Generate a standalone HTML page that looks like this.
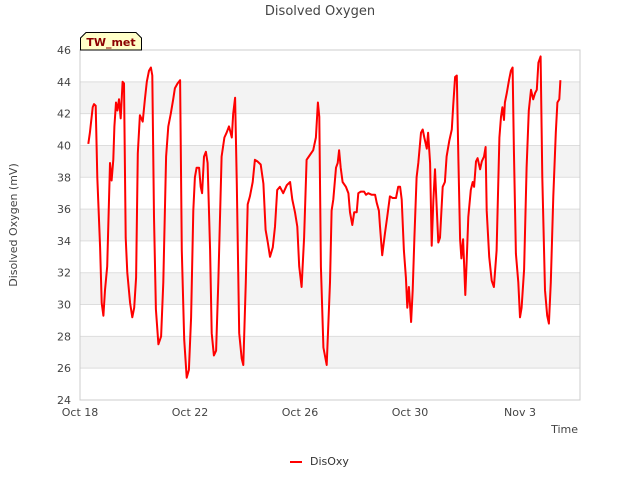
<!DOCTYPE html>
<html><head><meta charset="utf-8"><style>
body{margin:0;background:#fff;font-family:"Liberation Sans","DejaVu Sans",sans-serif;}
svg text{font-family:"DejaVu Sans","Liberation Sans",sans-serif;}
</style></head><body>
<svg id="chart" width="640" height="480" viewBox="0 0 640 480" xmlns="http://www.w3.org/2000/svg">
<rect x="0" y="0" width="640" height="480" fill="#fff"/>
<text x="320" y="15" text-anchor="middle" font-size="13" fill="#444">Disolved Oxygen</text>
<g id="bands"></g>
<g id="grid"></g>
<rect x="80" y="50" width="500" height="350" fill="none" stroke="#ccc"/>
<g id="yticks"></g>
<g id="xticks"></g>
<path id="line" fill="none" stroke="#ff0000" stroke-width="2" stroke-linejoin="round"/>
<text transform="translate(17,225) rotate(-90)" text-anchor="middle" font-size="11" fill="#444">Disolved Oxygen (mV)</text>
<text x="578" y="433" text-anchor="end" font-size="11" fill="#444">Time</text>
<g>
<path d="M80.5,50 L80.5,38 L86,32.5 L136,32.5 L141.5,38 L141.5,50 Z" fill="#ffffc8" stroke="#000" stroke-width="1"/>
<text x="111" y="46" text-anchor="middle" font-size="11" font-weight="bold" fill="#8b0000">TW_met</text>
</g>
<g>
<line x1="290" y1="462" x2="302" y2="462" stroke="#ff0000" stroke-width="2"/>
<text x="310" y="465" font-size="11" fill="#333">DisOxy</text>
</g>
</svg>
<script>
const days=[0.30,0.36,0.46,0.51,0.57,0.63,0.73,0.79,0.85,0.91,0.99,1.09,1.15,1.21,1.25,1.31,1.36,1.42,1.48,1.55,1.60,1.66,1.72,1.82,1.90,1.97,2.04,2.10,2.18,2.28,2.36,2.43,2.51,2.58,2.63,2.69,2.76,2.85,2.95,3.03,3.13,3.21,3.30,3.39,3.45,3.55,3.64,3.70,3.79,3.88,3.96,4.04,4.12,4.18,4.24,4.33,4.39,4.44,4.51,4.58,4.64,4.73,4.79,4.87,4.95,5.03,5.15,5.25,5.33,5.42,5.52,5.57,5.64,5.70,5.79,5.88,5.94,6.03,6.10,6.18,6.28,6.36,6.45,6.57,6.67,6.75,6.83,6.91,7.01,7.09,7.17,7.27,7.39,7.52,7.64,7.72,7.82,7.90,7.97,8.06,8.15,8.24,8.36,8.48,8.58,8.65,8.70,8.76,8.85,8.97,9.09,9.15,9.21,9.31,9.37,9.42,9.48,9.55,9.67,9.76,9.82,9.90,9.97,10.06,10.12,10.21,10.33,10.40,10.48,10.61,10.73,10.79,10.87,10.91,10.99,11.09,11.17,11.27,11.37,11.49,11.57,11.64,11.70,11.78,11.85,11.90,11.96,12.04,12.10,12.16,12.24,12.30,12.40,12.46,12.52,12.61,12.66,12.73,12.79,12.85,12.91,12.97,13.03,13.09,13.19,13.27,13.33,13.43,13.52,13.57,13.64,13.70,13.76,13.82,13.87,13.93,13.97,14.01,14.06,14.12,14.21,14.28,14.33,14.40,14.46,14.55,14.61,14.69,14.75,14.79,14.88,14.97,15.05,15.15,15.25,15.31,15.36,15.42,15.45,15.52,15.60,15.67,15.73,15.78,15.85,15.94,16.00,16.06,16.15,16.24,16.32,16.40,16.48,16.55,16.61,16.67,16.75,16.81,16.91,16.99,17.05,17.12,17.21,17.30,17.36,17.43,17.47];
const disoxy=[40.1,40.8,42.4,42.6,42.5,38.0,33.6,30.1,29.3,30.9,32.4,38.9,37.8,39.1,41.2,42.7,42.2,42.9,41.7,44.0,43.9,34.2,32.0,30.1,29.2,29.8,31.7,39.5,41.9,41.5,42.9,44.0,44.7,44.9,44.4,35.5,29.7,27.5,28.0,31.4,39.3,41.2,42.0,42.9,43.6,43.9,44.1,33.4,27.8,25.4,25.9,29.2,35.9,38.0,38.6,38.6,37.4,37.0,39.3,39.6,38.9,33.4,28.2,26.8,27.1,31.4,39.3,40.5,40.8,41.2,40.5,42.0,43.0,37.6,28.2,26.6,26.2,31.4,36.3,36.8,37.7,39.1,39.0,38.8,37.6,34.7,33.9,33.0,33.6,34.9,37.2,37.4,37.0,37.5,37.7,36.6,35.8,34.9,32.4,31.1,34.2,39.1,39.4,39.7,40.5,42.7,41.8,32.4,27.3,26.2,31.4,35.9,36.6,38.6,38.9,39.7,38.6,37.7,37.4,37.0,35.8,35.0,35.8,35.8,37.0,37.1,37.1,36.9,37.0,36.9,36.9,36.4,35.9,34.9,33.1,34.5,35.5,36.8,36.7,36.7,37.4,37.4,36.6,33.4,31.7,29.8,31.1,28.9,30.9,34.2,38.0,38.9,40.8,41.0,40.5,39.8,40.8,38.9,33.7,36.6,38.5,36.1,33.9,34.2,37.4,37.7,39.3,40.3,41.0,42.5,44.3,44.4,39.1,34.1,32.9,34.1,32.4,30.6,32.6,35.5,37.2,37.7,37.4,39.0,39.2,38.5,39.0,39.3,39.9,35.9,33.0,31.5,31.1,33.4,40.5,41.8,42.4,41.6,42.7,43.3,44.1,44.7,44.9,39.7,33.2,31.4,29.2,29.8,32.2,38.6,42.2,43.5,42.9,43.3,43.5,45.2,45.6,38.0,30.9,29.3,28.8,31.4,36.8,40.8,42.7,42.9,44.1];
const yTicks=[24,26,28,30,32,34,36,38,40,42,44,46];
const xTickDays=[0,4,8,12,16];
const xTickLabels=["Oct 18","Oct 22","Oct 26","Oct 30","Nov 3"];
const X0=80,X1=580,Y0=400,Y1=50,DMIN=0,DMAX=500/27.5,VMIN=24,VMAX=46;
const NS="http://www.w3.org/2000/svg";
function xs(d){return X0+(d-DMIN)/(DMAX-DMIN)*(X1-X0);}
function ys(v){return Y0-(v-VMIN)/(VMAX-VMIN)*(Y0-Y1);}
const bands=document.getElementById('bands'),grid=document.getElementById('grid'),yt=document.getElementById('yticks'),xt=document.getElementById('xticks');
for(let i=0;i<yTicks.length;i++){
  const v=yTicks[i];
  if(i<yTicks.length-1 && (i%2===1)){
    const r=document.createElementNS(NS,'rect');
    
    
    r.setAttribute('x',X0);r.setAttribute('y',ys(yTicks[i+1]));r.setAttribute('width',X1-X0);r.setAttribute('height',ys(v)-ys(yTicks[i+1]));r.setAttribute('fill','#f3f3f3');
    bands.appendChild(r);
  }
  const l=document.createElementNS(NS,'line');
  
  
  l.setAttribute('x1',X0);l.setAttribute('x2',X1);l.setAttribute('y1',ys(v));l.setAttribute('y2',ys(v));l.setAttribute('stroke','#ddd');
  grid.appendChild(l);
  const t=document.createElementNS(NS,'text');
  
  
  t.setAttribute('x',71);t.setAttribute('y',ys(v)+4);t.setAttribute('text-anchor','end');t.setAttribute('font-size','11');t.setAttribute('fill','#444');
  t.textContent=v;yt.appendChild(t);
}
for(let i=0;i<xTickDays.length;i++){
  const t=document.createElementNS(NS,'text');
  
  
  t.setAttribute('x',xs(xTickDays[i]));t.setAttribute('y',416);t.setAttribute('text-anchor','middle');t.setAttribute('font-size','11');t.setAttribute('fill','#444');
  t.textContent=xTickLabels[i];xt.appendChild(t);
}
let d='';
for(let i=0;i<days.length;i++){d+=(i?'L':'M')+xs(days[i]).toFixed(1)+','+ys(disoxy[i]).toFixed(1);}
document.getElementById('line').setAttribute('d',d);
</script>
</body></html>
